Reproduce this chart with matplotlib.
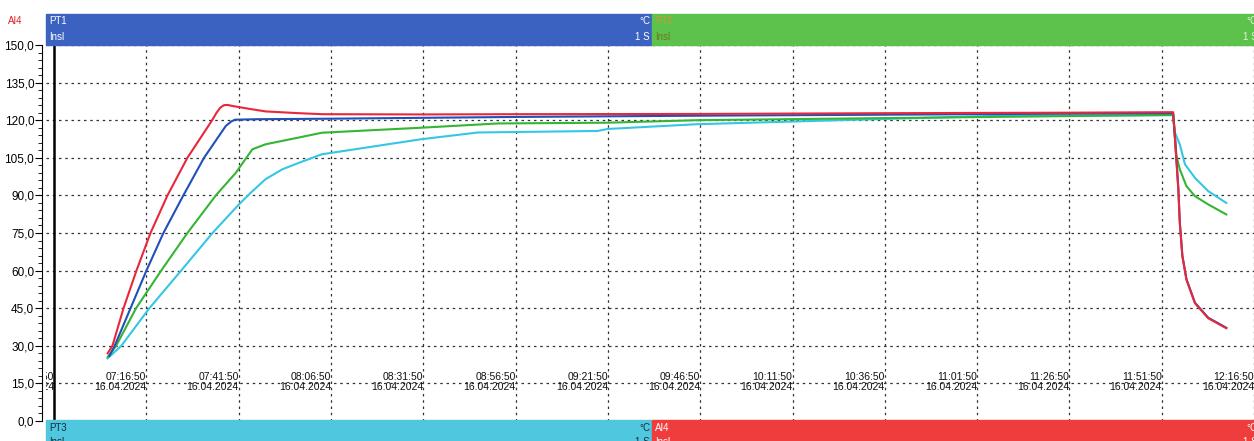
import matplotlib
matplotlib.use('Agg')
import matplotlib.pyplot as plt
import pandas as pd
from matplotlib.patches import Rectangle
from matplotlib.ticker import MultipleLocator

plt.rcParams['font.family'] = ['Liberation Sans', 'DejaVu Sans']

# Minutes relative to 07:16:50 on the logger clock
START = pd.Timestamp('2024-04-16 07:16:50')

ai4_t = [-10.5, -9.2, -6.2, -2.7, 1.1, 5.7, 11.1, 17.8, 19.0, 20.0, 21.0, 22.0, 23.2, 28.0, 32.3,
         41.3, 47.5, 75, 100, 150, 200, 250, 278.1, 278.6, 279.5, 279.9, 280.6, 281.7, 284.0,
         287.6, 292.5]
ai4_v = [27, 30, 45, 60, 75, 90, 105, 120, 123.0, 125.0, 126.0, 126.1, 125.7, 124.5, 123.5,
         122.8, 122.4, 122.3, 122.4, 122.5, 122.8, 123.0, 123.2, 112.4, 92.4, 79.0, 65.7, 56.4, 47.0,
         41.0, 37.0]

pt1_t = [-10.0, -8.6, -4.3, 0.0, 4.6, 10.0, 15.6, 21.5, 23.0, 24.0, 30, 50, 100, 150, 200, 250,
         278.1, 278.6, 279.5, 279.9, 280.6, 281.7, 284.0, 287.6, 292.5]
pt1_v = [26, 30, 45, 60, 75, 90, 105, 117.7, 119.5, 120.2, 120.4, 120.6, 121.3, 121.8, 122.2, 122.6,
         122.8, 113.0, 93.0, 79.5, 66.0, 56.6, 47.2, 41.2, 37.2]

pt2_t = [-10.5, -8.2, -2.8, 4.0, 11.1, 18.8, 24.2, 28.7, 32.3, 41.3, 47.5, 74.4, 95.2, 124.9,
         149.1, 197.7, 216.6, 278.1, 279.0, 279.9, 281.7, 284.0, 287.6, 292.5]
pt2_v = [25.5, 30, 45, 60, 75, 90, 99, 108.4, 110.4, 113.1, 115.0, 117.0, 118.7, 119.0,
         120.0, 120.8, 121.1, 122.1, 105.7, 100.4, 93.7, 89.7, 86.4, 82.4]

pt3_t = [-10.5, -6.8, 0.8, 9.4, 17.9, 24.6, 28.2, 32.3, 36.8, 41.3, 47.5, 74.4, 89.8, 122.2,
         124.9, 149.1, 197.7, 230.0, 278.1, 278.6, 279.9, 281.3, 284.0, 287.6, 292.5]
pt3_v = [25.0, 30, 45, 60, 75, 85.7, 91.0, 96.5, 100.4, 103, 106.4, 112.4, 115.1, 115.7,
         116.5, 118.4, 120.4, 121.7, 122.0, 115.0, 110.4, 102.4, 97.0, 91.7, 87.0]

grid_t = list(range(-25, 301, 25))

W, H = 1254, 441
fig = plt.figure(figsize=(W / 100, H / 100), dpi=100)
ax = fig.add_axes([46 / W, 1 - 421 / H, 1 - 46 / W, (421 - 45) / H])
ax.set_axisbelow(True)

ax.plot(pt3_t, pt3_v, color='#35c6e4', lw=1.5)
ax.plot(pt2_t, pt2_v, color='#34b534', lw=1.5)
ax.plot(pt1_t, pt1_v, color='#2050b8', lw=1.5)
ax.plot(ai4_t, ai4_v, color='#e8283a', lw=1.5)

ax.set_xlim(-27.2, 298.5)
ax.set_ylim(0, 150)

dots = dict(color='#333333', lw=0.9, linestyle=(0, (2, 3)))
ax.set_xticks(grid_t[1:])
ax.tick_params(axis='x', length=0, labelbottom=False)
ax.xaxis.grid(True, **dots)
ax.yaxis.set_major_locator(MultipleLocator(15))
ax.yaxis.set_minor_locator(MultipleLocator(3))
ax.yaxis.grid(True, **dots)
ax.set_yticklabels([f'{v:.1f}'.replace('.', ',') for v in ax.get_yticks()])
ax.tick_params(axis='y', which='major', length=5, pad=0.5, labelsize=8.5)
ax.tick_params(axis='y', which='minor', length=3)
for s in ['top', 'right', 'bottom']:
    ax.spines[s].set_visible(False)
ax.spines['left'].set_position(('outward', 3))
ax.axvline(grid_t[0], color='black', lw=1.8)

for t in grid_t:
    stamp = START + pd.Timedelta(minutes=t)
    ax.text(t, 15.5, stamp.strftime('%H:%M:%S') + '\n' + stamp.strftime('%d.%m.%Y'),
            ha='right', va='center', fontsize=7.5, linespacing=0.95, color='#111111',
            multialignment='right', clip_on=True)

# channel header bars
def bar(x0, x1, y0, y1, color):
    fig.patches.append(Rectangle((x0 / W, 1 - y1 / H), (x1 - x0) / W, (y1 - y0) / H,
                                 transform=fig.transFigure, color=color, zorder=5))

def label(x, y, s, color, ha='left'):
    fig.text(x / W, 1 - y / H, s, ha=ha, va='center', fontsize=7, color=color, zorder=6)

bar(46, 652, 14, 45, '#3b62c0')
bar(652, W, 14, 45, '#5cc24c')
bar(46, 652, 420, H, '#4fc7df')
bar(652, W, 420, H, '#ef3c3c')

label(8, 21, 'AI4', '#e02020')
label(49, 21, 'PT1', 'white')
label(49, 37, 'Insl', 'white')
label(650, 21, '°C', 'white', ha='right')
label(650, 37, '1 S', 'white', ha='right')
label(655, 21, 'PT2', '#c89a3a')
label(655, 37, 'Insl', '#6a7a20')
label(1246, 21, '°C', '#e8f0e0')
label(1243, 37, '1 S', '#e8f0e0')
label(49, 428, 'PT3', '#1a2a40')
label(49, 442, 'Insl', '#1a2a40')
label(650, 428, '°C', '#1a2a40', ha='right')
label(650, 442, '1 S', '#1a2a40', ha='right')
label(655, 428, 'AI4', 'white')
label(655, 442, 'Insl', 'white')
label(1246, 428, '°C', 'white')
label(1243, 442, '1 S', 'white')

fig.savefig('out.png', dpi=100)
